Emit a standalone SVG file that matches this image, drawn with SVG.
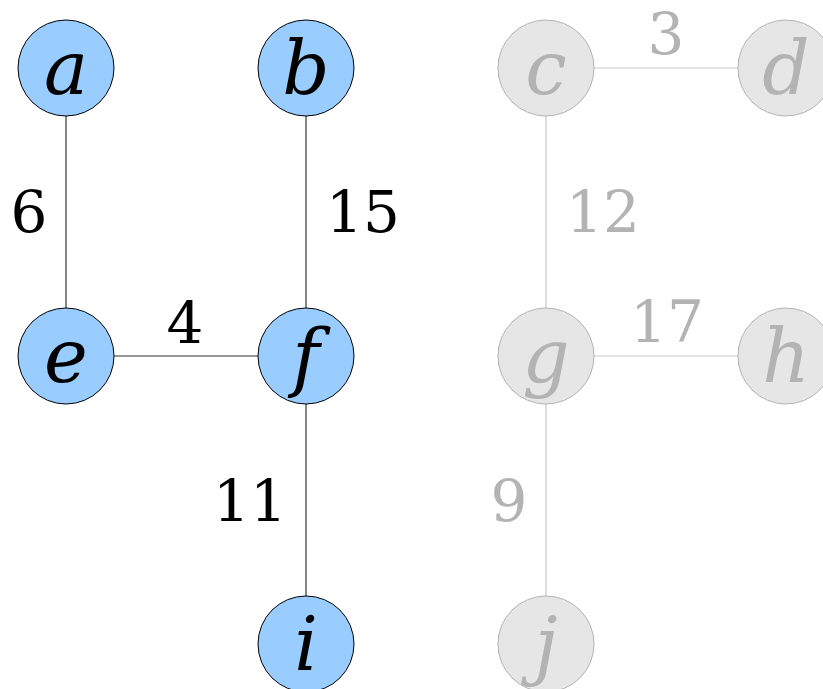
<svg xmlns="http://www.w3.org/2000/svg" width="823" height="689" viewBox="0 0 823 689">
<style>
.on circle{fill:#99ccff;stroke:#000;stroke-width:1}
.off circle{fill:#e6e6e6;stroke:#b3b3b3;stroke-width:1}
.lbl{font-family:"DejaVu Serif",serif;font-style:italic;font-size:74px;text-anchor:middle}
.on .lbl{fill:#000}
.off .lbl{fill:#b3b3b3}
.e1{stroke:#333;stroke-width:1.2}
.e0{stroke:#c8c8c8;stroke-width:1.2}
.w{font-family:"DejaVu Serif",serif;font-size:58px;text-anchor:middle}
.w1{fill:#000}
.w0{fill:#b3b3b3}
</style>
<g id="connectors">
<line class="e1" x1="66" y1="116" x2="66" y2="308"/>
<line class="e1" x1="306" y1="116" x2="306" y2="308"/>
<line class="e1" x1="114" y1="356" x2="258" y2="356"/>
<line class="e1" x1="306" y1="404" x2="306" y2="596"/>
<line class="e0" x1="594" y1="68" x2="738" y2="68"/>
<line class="e0" x1="546" y1="116" x2="546" y2="308"/>
<line class="e0" x1="594" y1="356" x2="738" y2="356"/>
<line class="e0" x1="546" y1="404" x2="546" y2="596"/>
<text class="w w1" x="29" y="232">6</text>
<text class="w w1" x="363" y="232">15</text>
<text class="w w1" x="185" y="343">4</text>
<text class="w w1" x="250" y="521">11</text>
<text class="w w0" x="666" y="54">3</text>
<text class="w w0" x="603" y="232">12</text>
<text class="w w0" x="667" y="342">17</text>
<text class="w w0" x="509" y="521">9</text>
</g>
<g id="a" class="on"><circle cx="66" cy="68" r="48"/><text class="lbl" x="66" y="94">a</text></g>
<g id="b" class="on"><circle cx="306" cy="68" r="48"/><text class="lbl" x="306" y="94">b</text></g>
<g id="c" class="off"><circle cx="546" cy="68" r="48"/><text class="lbl" x="546" y="94">c</text></g>
<g id="d" class="off"><circle cx="786" cy="68" r="48"/><text class="lbl" x="786" y="94">d</text></g>
<g id="e" class="on"><circle cx="66" cy="356" r="48"/><text class="lbl" x="66" y="382">e</text></g>
<g id="f" class="on"><circle cx="306" cy="356" r="48"/><text class="lbl" x="306" y="382">f</text></g>
<g id="g" class="off"><circle cx="546" cy="356" r="48"/><text class="lbl" x="546" y="382">g</text></g>
<g id="h" class="off"><circle cx="786" cy="356" r="48"/><text class="lbl" x="786" y="382">h</text></g>
<g id="i" class="on"><circle cx="306" cy="644" r="48"/><text class="lbl" x="306" y="670">i</text></g>
<g id="j" class="off"><circle cx="546" cy="644" r="48"/><text class="lbl" x="546" y="670">j</text></g>
</svg>
